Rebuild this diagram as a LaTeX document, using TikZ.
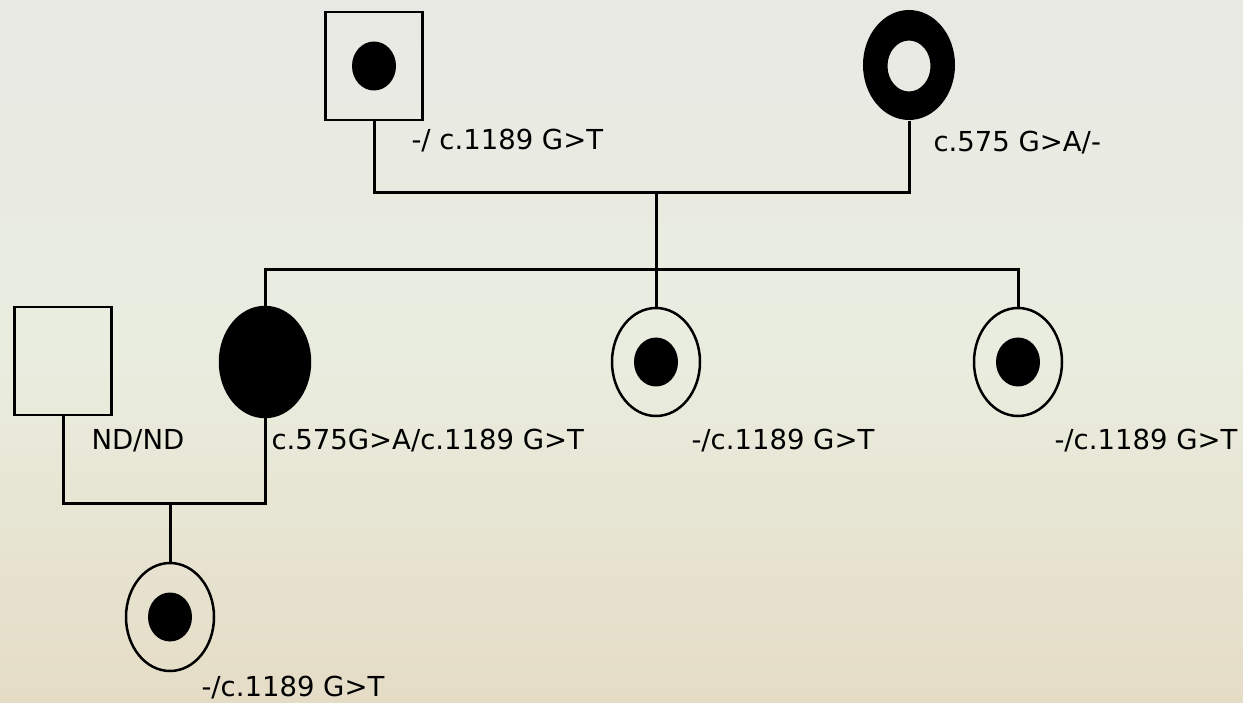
\documentclass[tikz,border=0pt]{standalone}
\usepackage{fontspec}
\setmainfont{DejaVu Sans}
\usetikzlibrary{shapes.geometric}
\definecolor{bgtop}{RGB}{233,233,228}
\definecolor{bgmid}{RGB}{233,237,223}
\definecolor{bgbot}{RGB}{229,220,198}
\begin{document}
\begin{tikzpicture}[x=1pt,y=-1pt, line width=3pt,
  male/.style={draw, rectangle, minimum width=97pt, minimum height=108pt, line width=2.5pt, inner sep=0pt},
  female/.style={draw, ellipse, minimum width=88pt, minimum height=108pt, line width=2.5pt, inner sep=0pt},
  dot/.style={fill, ellipse, minimum width=44pt, minimum height=49pt, inner sep=0pt},
  lbl/.style={anchor=west, font=\fontsize{27.5}{30}\selectfont, inner sep=0pt}]
\shade[top color=bgtop, bottom color=bgbot, middle color=bgmid] (0,0) rectangle (1243,703);
\useasboundingbox (0,0) rectangle (1243,703);
% generation I
\node[male] (F) at (374,66) {};
\node[dot] (Fd) at (374,66) {};
\node[ellipse, minimum width=92pt, minimum height=110pt, inner sep=0pt] (M) at (909,65) {};
\fill[even odd rule] (909,65) ellipse [x radius=46pt, y radius=55pt] (909,66) ellipse [x radius=21.5pt, y radius=25.5pt];
\coordinate (m1) at (656,193);
\coordinate (s1) at (656,270);
% generation II
\node[male] (S) at (63,361) {};
\node[female, fill, minimum width=90pt, minimum height=110pt] (D1) at (265,362) {};
\node[female] (D2) at (656,362) {};
\node[dot] (D2d) at (656,362) {};
\node[female] (D3) at (1018,362) {};
\node[dot] (D3d) at (1018,362) {};
\coordinate (m2) at (170,503);
% generation III
\node[female] (G) at (170,617) {};
\node[dot] (Gd) at (170,617) {};
% connectors
\draw (F.south) |- (m1) -| (M.south);
\draw (m1) -- (s1);
\draw (D1.north) |- (s1);
\draw (D2.north) -- (s1);
\draw (D3.north) |- (s1);
\draw (S.south) |- (m2) -| (D1.south);
\draw (m2) -- (G.north);
% labels
\node[lbl] (lF) at (410,141) {-/ c.1189 G>T};
\node[lbl] (lM) at (932,143) {c.575 G>A/-};
\node[lbl] (lS) at (90,441) {ND/ND};
\node[lbl] (lD1) at (270,441) {c.575G>A/c.1189 G>T};
\node[lbl] (lD2) at (690,441) {-/c.1189 G>T};
\node[lbl] (lD3) at (1053,441) {-/c.1189 G>T};
\node[lbl] (lG) at (200,688) {-/c.1189 G>T};
\end{tikzpicture}
\end{document}
